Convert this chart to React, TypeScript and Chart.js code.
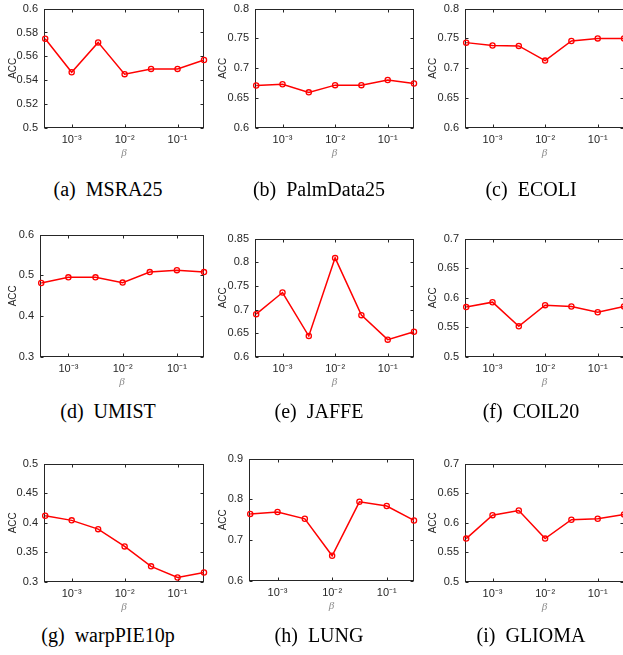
import React, { useEffect, useRef } from "react";
import { Chart, registerables } from "chart.js";

Chart.register(...registerables);

// ---------- data ----------
const BETA = [0.000316, 0.001, 0.00316, 0.01, 0.0316, 0.1, 0.316];
const X_TICKS = [0.001, 0.01, 0.1];
const X_TICK_LABELS = ["10⁻³", "10⁻²", "10⁻¹"];

const MSRA25 = [0.5747, 0.5467, 0.5717, 0.5451, 0.5495, 0.5495, 0.5569];
const PALMDATA25 = [0.6712, 0.6734, 0.6597, 0.6718, 0.6718, 0.6805, 0.6745];
const ECOLI = [0.743, 0.7381, 0.7375, 0.7129, 0.7458, 0.7501, 0.7501];
const UMIST = [0.4815, 0.4952, 0.4952, 0.4823, 0.5081, 0.5129, 0.5081];
const JAFFE = [0.6905, 0.7361, 0.6442, 0.8093, 0.6884, 0.6366, 0.6532];
const COIL20 = [0.5843, 0.5926, 0.5518, 0.5876, 0.5854, 0.5755, 0.5854];
const WARPPIE10P = [0.4118, 0.4041, 0.3893, 0.3601, 0.3264, 0.3077, 0.316];
const LUNG = [0.7644, 0.7693, 0.7524, 0.6618, 0.7941, 0.7837, 0.7484];
const GLIOMA = [0.5733, 0.6129, 0.6207, 0.5733, 0.6052, 0.6069, 0.614];

// y ranges: [min, max, step]
const MSRA25_Y = [0.5, 0.6, 0.02];
const PALMDATA25_Y = [0.6, 0.8, 0.05];
const ECOLI_Y = [0.6, 0.8, 0.05];
const UMIST_Y = [0.3, 0.6, 0.1];
const JAFFE_Y = [0.6, 0.85, 0.05];
const COIL20_Y = [0.5, 0.7, 0.05];
const WARPPIE10P_Y = [0.3, 0.5, 0.05];
const LUNG_Y = [0.6, 0.9, 0.1];
const GLIOMA_Y = [0.5, 0.7, 0.05];

const CAPTIONS = [
  ["(a)", "MSRA25"],
  ["(b)", "PalmData25"],
  ["(c)", "ECOLI"],
  ["(d)", "UMIST"],
  ["(e)", "JAFFE"],
  ["(f)", "COIL20"],
  ["(g)", "warpPIE10p"],
  ["(h)", "LUNG"],
  ["(i)", "GLIOMA"],
];

// ---------- layout ----------
const COL_LEFT = [0, 210, 420];
const CAPTION_X = [108, 319, 531];
const CAPTION_Y = [189, 411, 635];
const PAD = 10;
const XAXIS_H = 40;

// plot rectangles [left, right, top, bottom]
const PLOTS = [
  [44, 204, 6, 128],
  [255, 414, 6, 128],
  [465, 624, 6, 128],
  [40, 204, 232, 357],
  [255, 414, 236, 357],
  [465, 624, 236, 357],
  [44, 204, 461, 582],
  [249, 414, 456, 581],
  [465, 624, 461, 582],
];

const SERIES = [MSRA25, PALMDATA25, ECOLI, UMIST, JAFFE, COIL20, WARPPIE10P, LUNG, GLIOMA];
const RANGES = [MSRA25_Y, PALMDATA25_Y, ECOLI_Y, UMIST_Y, JAFFE_Y, COIL20_Y, WARPPIE10P_Y, LUNG_Y, GLIOMA_Y];

const AXIS_COLOR = "#262626";
const SANS = "'Liberation Sans', Arial, sans-serif";

const framePlugin = {
  id: "matlabFrame",
  beforeDatasetsDraw(chart: any) {
    const { ctx, chartArea: a, scales } = chart;
    ctx.save();
    ctx.strokeStyle = AXIS_COLOR;
    ctx.lineWidth = 1;
    const L = Math.round(a.left) + 0.5;
    const R = Math.round(a.right) - 0.5;
    const T = Math.round(a.top) + 0.5;
    const B = Math.round(a.bottom) - 0.5;
    ctx.strokeRect(L, T, R - L, B - T);
    const tl = 3;
    ctx.beginPath();
    for (const t of scales.x.ticks) {
      const px = Math.round(scales.x.getPixelForValue(t.value)) + 0.5;
      ctx.moveTo(px, B);
      ctx.lineTo(px, B - tl);
      ctx.moveTo(px, T);
      ctx.lineTo(px, T + tl);
    }
    for (const t of scales.y.ticks) {
      const py = Math.round(scales.y.getPixelForValue(t.value)) + 0.5;
      ctx.moveTo(L, py);
      ctx.lineTo(L + tl, py);
      ctx.moveTo(R, py);
      ctx.lineTo(R - tl, py);
    }
    ctx.stroke();
    ctx.restore();
  },
};

function Panel({ index }: { index: number }) {
  const ref = useRef<HTMLCanvasElement | null>(null);
  const col = index % 3;
  const [pl, pr, pt, pb] = PLOTS[index];
  const colLeft = COL_LEFT[col];
  const width = pr + PAD - colLeft;
  const height = PAD + (pb - pt) + XAXIS_H;
  const top = pt - PAD;

  useEffect(() => {
    const canvas = ref.current!;
    const [ymin, ymax, ystep] = RANGES[index];
    const yW = pl - colLeft;
    const chart = new Chart(canvas, {
      type: "line",
      data: {
        datasets: [
          {
            data: BETA.map((b, i) => ({ x: b, y: SERIES[index][i] })),
            borderColor: "#ff0000",
            borderWidth: 1.5,
            pointRadius: 2.6,
            pointBorderWidth: 1.3,
            pointBorderColor: "#ff0000",
            pointBackgroundColor: "rgba(255,255,255,0)",
            tension: 0,
            clip: false as any,
          },
        ],
      },
      options: {
        animation: false,
        responsive: false,
        maintainAspectRatio: false,
        events: [],
        layout: { padding: { top: PAD, right: PAD, left: 0, bottom: 0 } },
        plugins: { legend: { display: false }, tooltip: { enabled: false } },
        scales: {
          x: {
            type: "logarithmic",
            min: BETA[0],
            max: BETA[BETA.length - 1],
            afterBuildTicks: (s: any) => {
              s.ticks = X_TICKS.map((v) => ({ value: v }));
            },
            afterFit: (s: any) => {
              s.height = XAXIS_H;
            },
            grid: { display: false, drawTicks: false },
            border: { display: false },
            ticks: {
              autoSkip: false,
              maxRotation: 0,
              padding: 5,
              color: AXIS_COLOR,
              font: { family: SANS, size: 11 },
              callback: (_v: any, i: number) => X_TICK_LABELS[i],
            },
            title: {
              display: true,
              text: "β",
              color: "#8a8a8a",
              font: { family: "'Liberation Serif', serif", style: "italic", size: 11 },
              padding: { top: 0, bottom: 8 },
            },
          },
          y: {
            type: "linear",
            min: ymin,
            max: ymax,
            afterFit: (s: any) => {
              s.width = yW;
            },
            grid: { display: false, drawTicks: false },
            border: { display: false },
            ticks: {
              stepSize: ystep,
              padding: 6,
              color: AXIS_COLOR,
              font: { family: SANS, size: 11 },
              callback: (v: any) => String(Number(Number(v).toFixed(4))),
            },
            title: {
              display: true,
              text: "ACC",
              color: AXIS_COLOR,
              font: { family: SANS, size: 10 },
              padding: { top: 7, bottom: 0 },
            },
          },
        },
      },
      plugins: [framePlugin],
    } as any);
    return () => chart.destroy();
  }, [index]);

  return (
    <canvas
      ref={ref}
      width={width}
      height={height}
      style={{ position: "absolute", left: colLeft, top, width, height }}
    />
  );
}

function Caption({ index }: { index: number }) {
  const col = index % 3;
  const row = Math.floor(index / 3);
  const [tag, name] = CAPTIONS[index];
  return (
    <div
      style={{
        position: "absolute",
        left: CAPTION_X[col],
        top: CAPTION_Y[row] - 10,
        transform: "translateX(-50%)",
        fontFamily: "'Liberation Serif', 'Times New Roman', serif",
        fontSize: 20,
        lineHeight: "20px",
        color: "#000",
        whiteSpace: "pre",
      }}
    >
      {tag + "  " + name}
    </div>
  );
}

export default function App() {
  const idx = [0, 1, 2, 3, 4, 5, 6, 7, 8];
  return (
    <div
      style={{
        position: "fixed",
        left: 0,
        top: 0,
        width: 623,
        height: 655,
        overflow: "hidden",
        background: "#fff",
      }}
    >
      {idx.map((i) => (
        <Panel key={"p" + i} index={i} />
      ))}
      {idx.map((i) => (
        <Caption key={"c" + i} index={i} />
      ))}
    </div>
  );
}
